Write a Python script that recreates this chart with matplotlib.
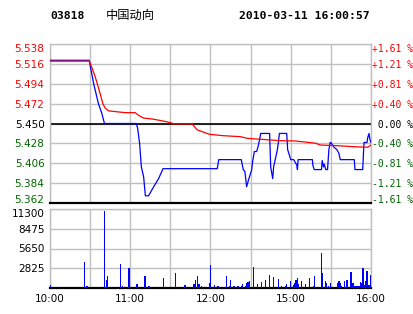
import matplotlib
matplotlib.use("Agg")
import matplotlib.pyplot as plt

# ---------------- data ----------------
prev_close = 5.450
price_ticks = [5.362, 5.384, 5.406, 5.428, 5.450, 5.472, 5.494, 5.516, 5.538]
vol_ticks = [2825, 5650, 8475, 11300]
time_ticks = [0, 60, 120, 180, 240]          # trading-minute index
time_labels = ["10:00", "11:00", "12:00", "15:00", "16:00"]
grid_minor = [30, 90, 150, 210]

# price line (trading-minute index, price)
price_t = [0, 29.3, 32.5, 36.2, 38.8, 40.7, 64.5, 65.5, 67, 68.3, 70, 71.3, 73.7,
           77.5, 81.2, 84.5, 125, 126.2, 143, 144.5, 145.7, 147, 148.5, 150,
           150.7, 151.5, 152.8, 154.5, 155.5, 156.7, 157.5, 164.2, 165, 166.5,
           167.2, 170, 171, 171.5, 177, 177.7, 180, 182.2, 184.5, 185, 185.5,
           196.2, 196.5, 197.5, 203, 203.5, 204.5, 205, 206.2, 207.5, 208.5,
           209.5, 210, 212.2, 214.5, 216, 217, 227.5, 228, 233.8, 234.5, 234.8,
           237, 237.5, 238.5, 239.2, 240]
price_v = [5.520, 5.520, 5.495, 5.472, 5.461, 5.450, 5.450, 5.445, 5.428, 5.402,
           5.391, 5.370, 5.370, 5.380, 5.389, 5.400, 5.400, 5.410, 5.410, 5.399,
           5.397, 5.380, 5.388, 5.395, 5.398, 5.408, 5.419, 5.419, 5.424, 5.432,
           5.439, 5.439, 5.402, 5.389, 5.402, 5.421, 5.432, 5.439, 5.439, 5.421,
           5.410, 5.410, 5.404, 5.399, 5.410, 5.410, 5.404, 5.399, 5.399, 5.409,
           5.402, 5.405, 5.399, 5.399, 5.421, 5.429, 5.429, 5.424, 5.421, 5.417,
           5.410, 5.410, 5.399, 5.399, 5.421, 5.429, 5.429, 5.434, 5.439, 5.432,
           5.429]

# average price line
avg_t = [0, 29.5, 33.75, 37.5, 39.5, 41.25, 43.7, 50, 56.25, 63.75, 66.2, 70,
         76.3, 83.8, 90, 92.5, 106.3, 110, 119.3, 129.7, 142.5, 147.5, 157.5,
         172.5, 183.75, 192.5, 198.75, 202, 215, 227.5, 237.5, 240]
avg_v = [5.519, 5.519, 5.502, 5.483, 5.472, 5.467, 5.464, 5.463, 5.462, 5.462,
         5.459, 5.456, 5.455, 5.453, 5.451, 5.4495, 5.4495, 5.443, 5.438, 5.4365,
         5.4354, 5.4336, 5.4325, 5.431, 5.4306, 5.4292, 5.4281, 5.4262, 5.4254,
         5.4243, 5.4237, 5.4262]

# volume bars
vol_t = [0, 26, 27, 28, 41, 42, 43, 53, 54, 59, 65, 71, 74, 85, 94, 101, 107,
         108, 109, 110, 111, 112, 113, 119, 120, 123, 125, 126, 132, 134, 135,
         137, 138, 140, 141, 143, 144, 146, 147, 148, 149, 152, 155, 158, 161,
         164, 167, 171, 173, 176, 177, 180, 182, 183, 184, 185, 186, 188, 191,
         194, 197, 198, 203, 204, 206, 207, 208, 210, 215, 216, 217, 218, 220,
         222, 225, 226, 227, 228, 229, 230, 231, 232, 233, 234, 235, 236, 237,
         238, 239, 240]
vol_v = [430, 3700, 290, 290, 11000, 1150, 1700, 3500, 290, 2860, 570, 1700, 290,
         1430, 2150, 430, 570, 570, 1150, 1700, 570, 570, 290, 715, 3290, 430,
         290, 290, 1700, 290, 1150, 290, 290, 290, 290, 290, 570, 290, 715, 800,
         1000, 3000, 570, 860, 1150, 1860, 1570, 1290, 290, 290, 570, 1000, 430,
         715, 1150, 1430, 570, 1000, 570, 1430, 290, 1700, 5000, 2150, 1000, 715,
         290, 715, 715, 1000, 715, 290, 1000, 1150, 2290, 715, 715, 290, 290, 290,
         290, 860, 715, 2860, 430, 1000, 2430, 430, 430, 1860]

# ---------------- styling ----------------
W, H = 414, 314
GRID = "#c0c0c0"
RED = "#ff0000"
GREEN = "#006400"
BLUE = "#0000ff"
FS = 7.5

fig = plt.figure(figsize=(W / 100, H / 100), dpi=100)
fig.patch.set_facecolor("white")

ax_p = fig.add_axes([50 / W, 1 - 203 / H, 321 / W, 159 / H])
ax_v = fig.add_axes([50 / W, 1 - 288 / H, 321 / W, 79 / H])

for ax in (ax_p, ax_v):
    ax.set_xlim(0, 240)
    ax.set_xticks(time_ticks)
    ax.set_xticks(grid_minor, minor=True)
    ax.grid(True, which="both", color=GRID, linewidth=1.0)
    ax.set_axisbelow(True)
    ax.tick_params(which="both", length=0)
    for s in ("left", "right", "top"):
        ax.spines[s].set_color(GRID)
        ax.spines[s].set_linewidth(1.0)
    ax.spines["bottom"].set_color("black")
    ax.spines["bottom"].set_linewidth(1.6)


def level_color(p):
    if abs(p - prev_close) < 1e-9:
        return "black"
    return RED if p > prev_close else GREEN


# ---- price panel ----
ax_p.set_ylim(price_ticks[0], price_ticks[-1])
ax_p.set_yticks(price_ticks)
ax_p.set_xticklabels([])
ax_p.set_yticklabels([f"{p:.3f}" for p in price_ticks], fontsize=FS,
                     family="DejaVu Sans")
ax_p.tick_params(axis="y", pad=4)
for p, lab in zip(price_ticks, ax_p.get_yticklabels()):
    lab.set_color(level_color(p))
labs = ax_p.get_yticklabels()
labs[-1].set_va("top")
labs[0].set_va("baseline")

ax_p.axhline(prev_close, color="black", linewidth=1.2, zorder=2)
ax_p.plot(price_t, price_v, color=BLUE, linewidth=0.9, zorder=3)
ax_p.plot(avg_t, avg_v, color=RED, linewidth=0.9, zorder=4)

# right-hand percentage labels
ax_r = ax_p.twinx()
ax_r.set_ylim(price_ticks[0], price_ticks[-1])
ax_r.set_yticks(price_ticks)
pct_labels = []
for p in price_ticks:
    pct = (p / prev_close - 1) * 100
    if abs(pct) < 0.005:
        pct_labels.append(" 0.00 %")
    elif pct > 0:
        pct_labels.append(f"+{pct:.2f} %")
    else:
        pct_labels.append(f"-{abs(pct):.2f} %")
ax_r.set_yticklabels(pct_labels, fontsize=7.0, family="DejaVu Sans Mono")
ax_r.tick_params(axis="y", length=0, pad=0.5)
for s in ax_r.spines.values():
    s.set_visible(False)
for p, lab in zip(price_ticks, ax_r.get_yticklabels()):
    lab.set_color(level_color(p))
rl = ax_r.get_yticklabels()
rl[-1].set_va("top")
rl[0].set_va("baseline")

# ---- volume panel ----
ax_v.set_ylim(0, vol_ticks[-1])
ax_v.set_yticks(vol_ticks)
ax_v.set_yticklabels([str(v) for v in vol_ticks], fontsize=FS,
                     family="DejaVu Sans")
ax_v.tick_params(axis="y", pad=4)
ax_v.get_yticklabels()[-1].set_va("top")
ax_v.set_xticklabels(time_labels, fontsize=FS, family="DejaVu Sans")
ax_v.tick_params(axis="x", pad=4)
ax_v.bar(vol_t, vol_v, width=0.9, color=BLUE, linewidth=0, zorder=3)

# ---- header ----
fig.text(50 / W, 1 - 16 / H, "03818", fontsize=8.2, family="DejaVu Sans Mono",
         fontweight="bold", va="center", ha="left")
fig.text(106 / W, 1 - 15.5 / H, "中国动向", fontsize=8.8,
         family=["Noto Sans CJK SC", "DejaVu Sans"], va="center", ha="left")
fig.text(370 / W, 1 - 16 / H, "2010-03-11 16:00:57", fontsize=8.2,
         family="DejaVu Sans Mono", fontweight="bold", va="center", ha="right")

fig.savefig("out.png", dpi=100)
